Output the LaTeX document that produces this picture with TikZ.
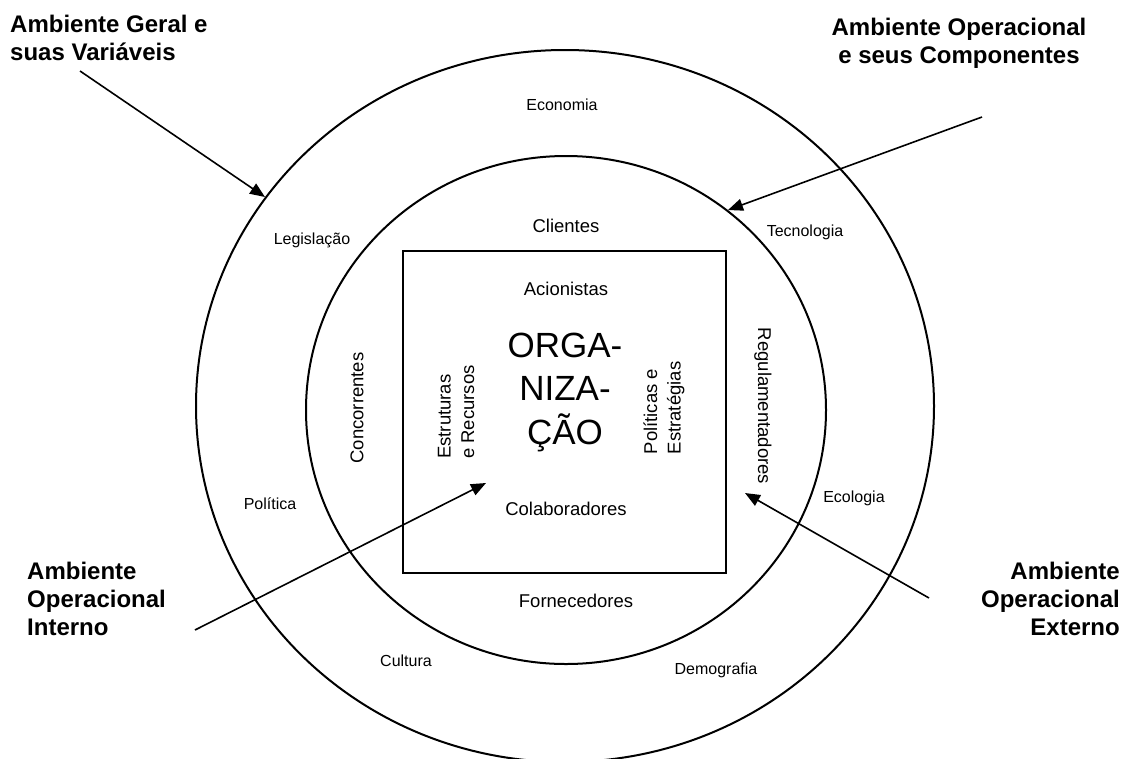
\documentclass[tikz,border=0pt]{standalone}
\usepackage{fontspec}
\setmainfont{Liberation Sans}
\usetikzlibrary{arrows.meta,shapes.geometric}
\begin{document}
\begin{tikzpicture}[x=1pt,y=-1pt,
  ring/.style={draw, line width=2pt, ellipse, inner sep=0pt, outer sep=0pt},
  boxed/.style={draw, line width=2pt, rectangle, inner sep=0pt, outer sep=0pt},
  lbl/.style={inner sep=0pt, font=\fontsize{16}{19}\selectfont},
  mid/.style={inner sep=0pt, font=\fontsize{18.5}{23.5}\selectfont},
  big/.style={inner sep=0pt, align=center, font=\fontsize{35}{43.5}\selectfont},
  title/.style={inner sep=0pt, font=\fontsize{24}{27.8}\selectfont\bfseries},
  arr/.style={line width=1.6pt, -{Triangle[length=15pt,width=12pt]}}
]
\useasboundingbox (0,0) rectangle (1130,758);
\fill[white] (0,0) rectangle (1130,758);

% rings and box
\node[ring, minimum width=738pt, minimum height=712pt] (outer) at (565,406) {};
\node[ring, minimum width=520pt, minimum height=508pt] (inner) at (566,410) {};
\node[boxed, minimum width=323pt, minimum height=322pt] (org) at (564.5,412) {};

% titles (base anchor = baseline of last line)
\node[title, anchor=base west, align=left] (geral) at (10,60) {Ambiente Geral e\\suas Variáveis};
\node[title, anchor=base, align=center] (opcomp) at (959,63) {Ambiente Operacional\\e seus Componentes};
\node[title, anchor=base west, align=left] (interno) at (27,635) {Ambiente\\Operacional\\Interno};
\node[title, anchor=base east, align=right] (externo) at (1120,635) {Ambiente\\Operacional\\Externo};

% outer ring labels
\node[lbl] (economia) at (562,105) {Economia};
\node[lbl] (legislacao) at (312,240) {Legislação};
\node[lbl] (tecnologia) at (805,232) {Tecnologia};
\node[lbl] (politica) at (270,504) {Política};
\node[lbl] (ecologia) at (854,498) {Ecologia};
\node[lbl] (cultura) at (406,661) {Cultura};
\node[lbl] (demografia) at (716,670) {Demografia};

% inner ring labels
\node[mid] (clientes) at (566,226) {Clientes};
\node[mid] (fornecedores) at (576,601) {Fornecedores};
\node[mid, rotate=90] (concorrentes) at (357,408) {Concorrentes};
\node[mid, rotate=-90] (regul) at (763,406) {Regulamentadores};

% box labels
\node[mid] (acionistas) at (566,289) {Acionistas};
\node[mid] (colab) at (566,509) {Colaboradores};
\node[mid, rotate=90, align=left] (estrut) at (456,412) {Estruturas\\e Recursos};
\node[mid, rotate=90, align=left] (polit) at (664,408) {Políticas e\\Estratégias};
\node[big] (organizacao) at (565,392) {ORGA-\\NIZA-\\ÇÃO};

% arrows
\coordinate (g0) at (80,71);
\coordinate (g1) at (265,197);
\coordinate (c0) at (982,117);
\coordinate (c1) at (728,210);
\coordinate (i0) at (195,630);
\coordinate (i1) at (486,483);
\coordinate (e0) at (929,598);
\coordinate (e1) at (745,493);
\draw[arr] (g0) -- (g1);
\draw[arr] (c0) -- (c1);
\draw[arr] (i0) -- (i1);
\draw[arr] (e0) -- (e1);
\end{tikzpicture}
\end{document}
